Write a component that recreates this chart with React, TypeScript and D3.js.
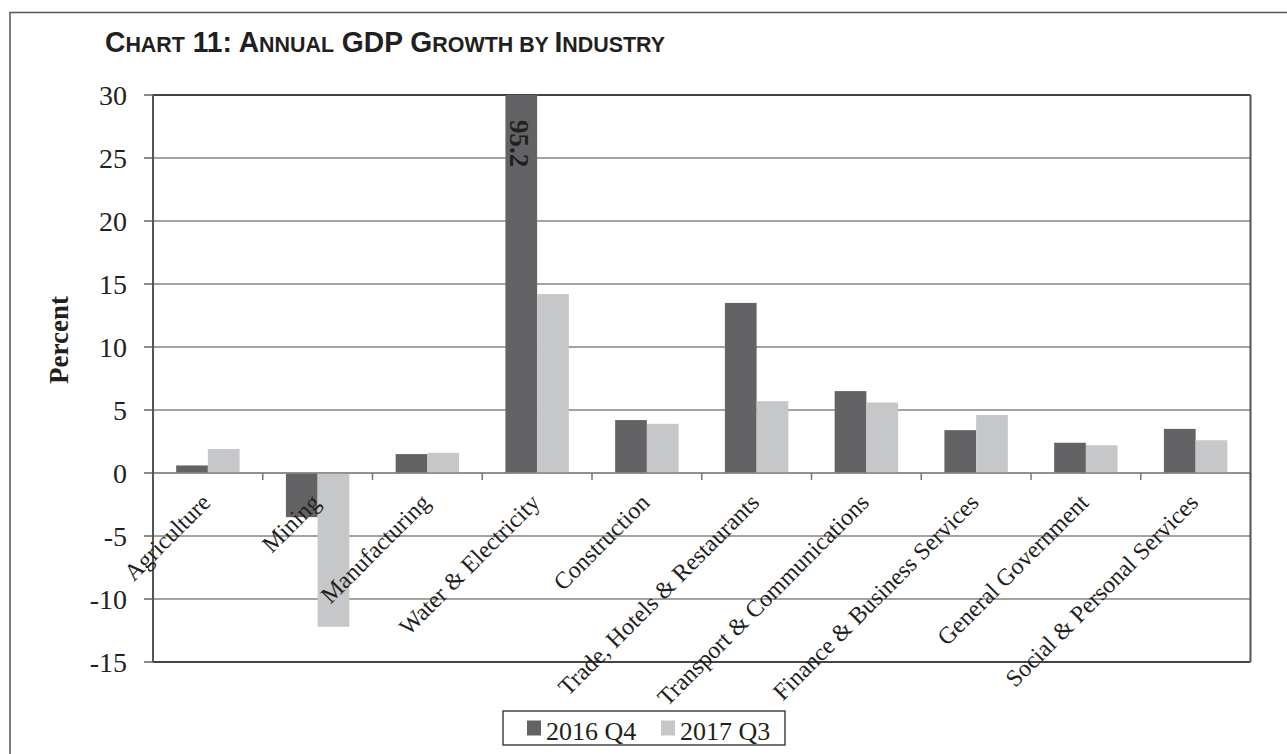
import React from "react";
import * as d3 from "d3";

const categories = [
  "Agriculture",
  "Mining",
  "Manufacturing",
  "Water & Electricity",
  "Construction",
  "Trade, Hotels & Restaurants",
  "Transport & Communications",
  "Finance & Business Services",
  "General Government",
  "Social & Personal Services",
];
const series2016Q4 = [0.6, -3.5, 1.5, 95.2, 4.2, 13.5, 6.5, 3.4, 2.4, 3.5];
const series2017Q3 = [1.9, -12.2, 1.6, 14.2, 3.9, 5.7, 5.6, 4.6, 2.2, 2.6];
const seriesNames = ["2016 Q4", "2017 Q3"];
const yTicks = [30, 25, 20, 15, 10, 5, 0, -5, -10, -15];

const W = 1287;
const H = 754;
const plot = { left: 153, right: 1250.5, top: 95, bottom: 662 };
const colors = ["#636365", "#c6c7c9"];
const serif = "'Liberation Serif', 'Times New Roman', serif";

export default function App() {
  const x = d3.scaleBand<string>().domain(categories).range([plot.left, plot.right]).padding(0);
  const y = d3.scaleLinear().domain([-15, 30]).range([plot.bottom, plot.top]).clamp(true);
  const bw = x.bandwidth();
  const barW = bw * 0.289;
  const groupOff = (bw - 2 * barW) / 2;
  const y0 = y(0);
  const series = [series2016Q4, series2017Q3];

  const titleParts: [string, boolean][] = [
    ["C", true], ["HART", false], [" 11: A", true], ["NNUAL", false], [" GDP G", true],
    ["ROWTH", false], [" BY ", false], ["I", true], ["NDUSTRY", false],
  ];

  return (
    <svg width={W} height={H} style={{ position: "absolute", left: 0, top: 0, background: "#fff" }}>
      <rect x={10} y={12.5} width={W + 20} height={H + 20} fill="none" stroke="#555" strokeWidth={1.5} />
      <text
        x={105}
        y={52}
        fontFamily="'Liberation Sans Narrow', 'Arial Narrow', 'Liberation Sans', sans-serif"
        fontWeight="bold"
        fill="#231f20"
        textLength={560}
        lengthAdjust="spacingAndGlyphs"
      >
        {titleParts.map(([t, big], i) => (
          <tspan key={i} fontSize={big ? 29 : 22}>{t}</tspan>
        ))}
      </text>

      {/* gridlines */}
      {yTicks.map((t) => (
        <line
          key={t}
          x1={plot.left}
          x2={plot.right}
          y1={y(t)}
          y2={y(t)}
          stroke={t === 30 || t === -15 ? "#444" : "#858585"}
          strokeWidth={t === 30 || t === -15 ? 2 : 1.5}
        />
      ))}
      {/* y tick marks and labels */}
      {yTicks.map((t) => (
        <g key={"t" + t}>
          <line x1={plot.left - 9} x2={plot.left} y1={y(t)} y2={y(t)} stroke="#666" strokeWidth={1.5} />
          <text x={127} y={y(t)} dy="0.35em" textAnchor="end" fontFamily={serif} fontSize={28} fill="#231f20">
            {t}
          </text>
        </g>
      ))}
      <text
        transform={`translate(68,340) rotate(-90)`}
        textAnchor="middle"
        fontFamily={serif}
        fontWeight="bold"
        fontSize={27}
        fill="#231f20"
      >
        Percent
      </text>

      {/* bars */}
      {categories.map((c, i) => (
        <g key={c}>
          {series.map((s, j) => {
            const v = s[i];
            const yv = y(v);
            return (
              <rect
                key={j}
                x={(x(c) as number) + groupOff + j * barW}
                y={Math.min(yv, y0)}
                width={barW}
                height={Math.abs(yv - y0)}
                fill={colors[j]}
              />
            );
          })}
        </g>
      ))}

      {/* value label for clipped bar */}
      {categories.map((c, i) =>
        series2016Q4[i] > 30 ? (
          <text
            key={"lbl" + c}
            transform={`translate(${(x(c) as number) + groupOff + barW / 2 - 11},${plot.top + 25}) rotate(90)`}
            fontFamily={serif}
            fontWeight="bold"
            fontSize={27}
            fill="#231f20"
          >
            {series2016Q4[i]}
          </text>
        ) : null
      )}

      {/* zero line */}
      <line x1={plot.left} x2={plot.right} y1={y0} y2={y0} stroke="#8a8a8a" strokeWidth={1.5} />
      {/* category ticks */}
      {categories.map((c, i) =>
        i === 0 ? null : (
          <line key={"ct" + c} x1={x(c)} x2={x(c)} y1={y0} y2={y0 + 7} stroke="#777" strokeWidth={1.5} />
        )
      )}
      <line x1={plot.right} x2={plot.right} y1={y0} y2={y0 + 7} stroke="#777" strokeWidth={1.5} />

      {/* plot border */}
      <line x1={plot.left} x2={plot.left} y1={plot.top} y2={plot.bottom} stroke="#555" strokeWidth={2} />
      <line x1={plot.right} x2={plot.right} y1={plot.top} y2={plot.bottom} stroke="#555" strokeWidth={2} />

      {/* category labels */}
      {categories.map((c) => {
        const cx = (x(c) as number) + bw / 2;
        return (
          <text
            key={"cl" + c}
            transform={`translate(${cx + 4},${y0 + 31}) rotate(-45)`}
            textAnchor="end"
            fontFamily={serif}
            fontSize={24}
            fill="#231f20"
          >
            {c}
          </text>
        );
      })}

      {/* legend */}
      <rect x={503} y={711} width={282} height={34} fill="#fff" stroke="#444" strokeWidth={1.5} />
      {seriesNames.map((n, j) => (
        <g key={n}>
          <rect x={527 + j * 134} y={720.5} width={14} height={15} fill={colors[j]} />
          <text x={546 + j * 134} y={740} fontFamily={serif} fontSize={26} fill="#231f20">
            {n}
          </text>
        </g>
      ))}
    </svg>
  );
}
